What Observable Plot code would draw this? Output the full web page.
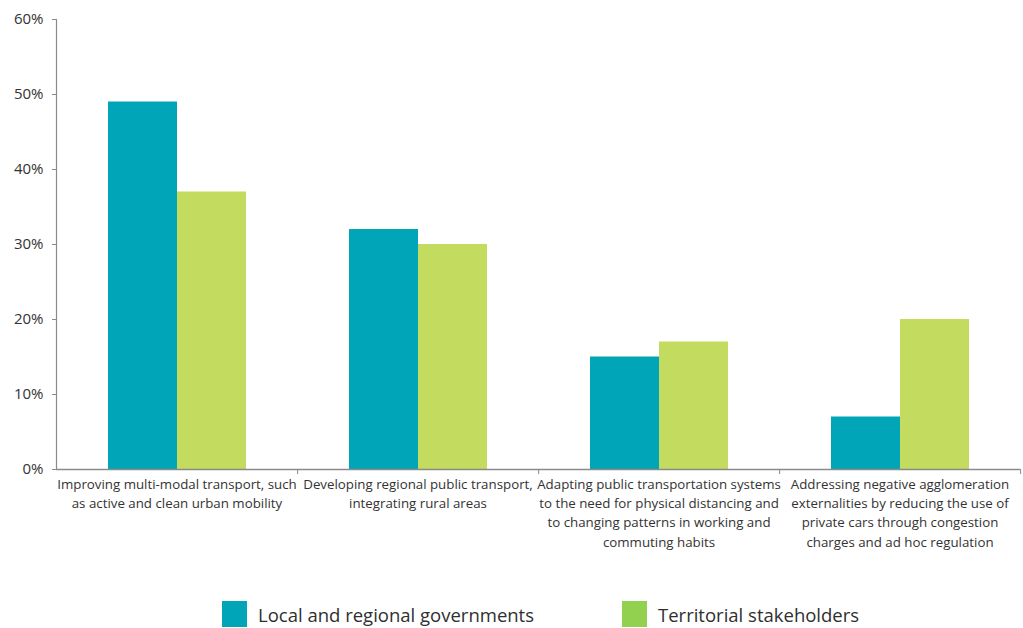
<!DOCTYPE html>
<html><head><meta charset="utf-8">
<script src="https://cdn.jsdelivr.net/npm/d3@7"></script>
<script src="https://cdn.jsdelivr.net/npm/@observablehq/plot@0.6"></script>
<style>
body{margin:0;background:#fff;font-family:"Open Sans",sans-serif;}
#legend{display:flex;margin-top:11px;padding-left:222px;color:#2f2f2f;font-size:18.5px;}
.item{display:flex;align-items:center;}
.sw{width:25px;height:26px;margin-right:11px;flex:none}
</style></head><body><div id="chart"></div><div id="legend"></div>
<script>
const categories = [
  "Improving multi-modal transport, such as active and clean urban mobility",
  "Developing regional public transport, integrating rural areas",
  "Adapting public transportation systems to the need for physical distancing and to changing patterns in working and commuting habits",
  "Addressing negative agglomeration externalities by reducing the use of private cars through congestion charges and ad hoc regulation"
];
const categoryLabels = [
  "Improving multi-modal transport, such\nas active and clean urban mobility",
  "Developing regional public transport,\nintegrating rural areas",
  "Adapting public transportation systems\nto the need for physical distancing and\nto changing patterns in working and\ncommuting habits",
  "Addressing negative agglomeration\nexternalities by reducing the use of\nprivate cars through congestion\ncharges and ad hoc regulation"
];
const seriesNames = ["Local and regional governments", "Territorial stakeholders"];
const localValues = [49, 32, 15, 7];
const stakeholderValues = [37, 30, 17, 20];
const yTicks = [0, 10, 20, 30, 40, 50, 60];
const barColors = ["#00A5B8", "#C3DB5E"];
const legendColors = ["#00A5B8", "#92D050"];

const data = categories.flatMap((c, i) => [
  {cat: c, series: seriesNames[0], value: localValues[i]},
  {cat: c, series: seriesNames[1], value: stakeholderValues[i]}
]);
const labelMap = new Map(categories.map((c, i) => [c, categoryLabels[i]]));

const W = 1023, H = 590, mL = 55, mR = 3, mT = 19, mB = 121;
const bandStep = (W - mL - mR) / categories.length;
const axisColor = "#8a8a8a";

const plot = Plot.plot({
  width: W, height: H,
  marginLeft: mL, marginRight: mR, marginTop: mT, marginBottom: mB,
  style: {fontFamily: "Open Sans", fontSize: "15px", color: "#333", background: "#fff"},
  fx: {domain: categories, padding: 0, label: null, axis: null},
  x: {domain: seriesNames, paddingInner: 0, paddingOuter: 0.746, axis: null},
  y: {domain: [0, 60], label: null, axis: null},
  color: {domain: seriesNames, range: barColors},
  marks: [
    Plot.barY(data, {fx: "cat", x: "series", y: "value", fill: "series"}),
    Plot.ruleY([0], {stroke: axisColor, strokeWidth: 1.5}),
    Plot.frame({anchor: "left", facetAnchor: "left", stroke: axisColor, strokeWidth: 1.2}),
    Plot.axisY({anchor: "left", ticks: yTicks, tickSize: 4, tickPadding: 9, stroke: axisColor, tickFormat: d => d + "%", fontSize: 15, label: null}),
    Plot.axisFx({anchor: "bottom", tickSize: 0, tickPadding: 6, fontSize: 13.3, lineHeight: 1.44, tickFormat: d => labelMap.get(d), label: null}),
    Plot.axisFx({anchor: "bottom", tickSize: 5, stroke: axisColor, tickFormat: () => "", dx: bandStep / 2, label: null})
  ]
});
document.getElementById("chart").appendChild(plot);

const legend = document.getElementById("legend");
seriesNames.forEach((s, i) => {
  const item = document.createElement("div");
  item.className = "item";
  if (i === 0) item.style.width = "400px";
  const sw = document.createElement("div");
  sw.className = "sw";
  sw.style.background = legendColors[i];
  const t = document.createElement("span");
  t.textContent = s;
  item.appendChild(sw);
  item.appendChild(t);
  legend.appendChild(item);
});
</script>
</body></html>
